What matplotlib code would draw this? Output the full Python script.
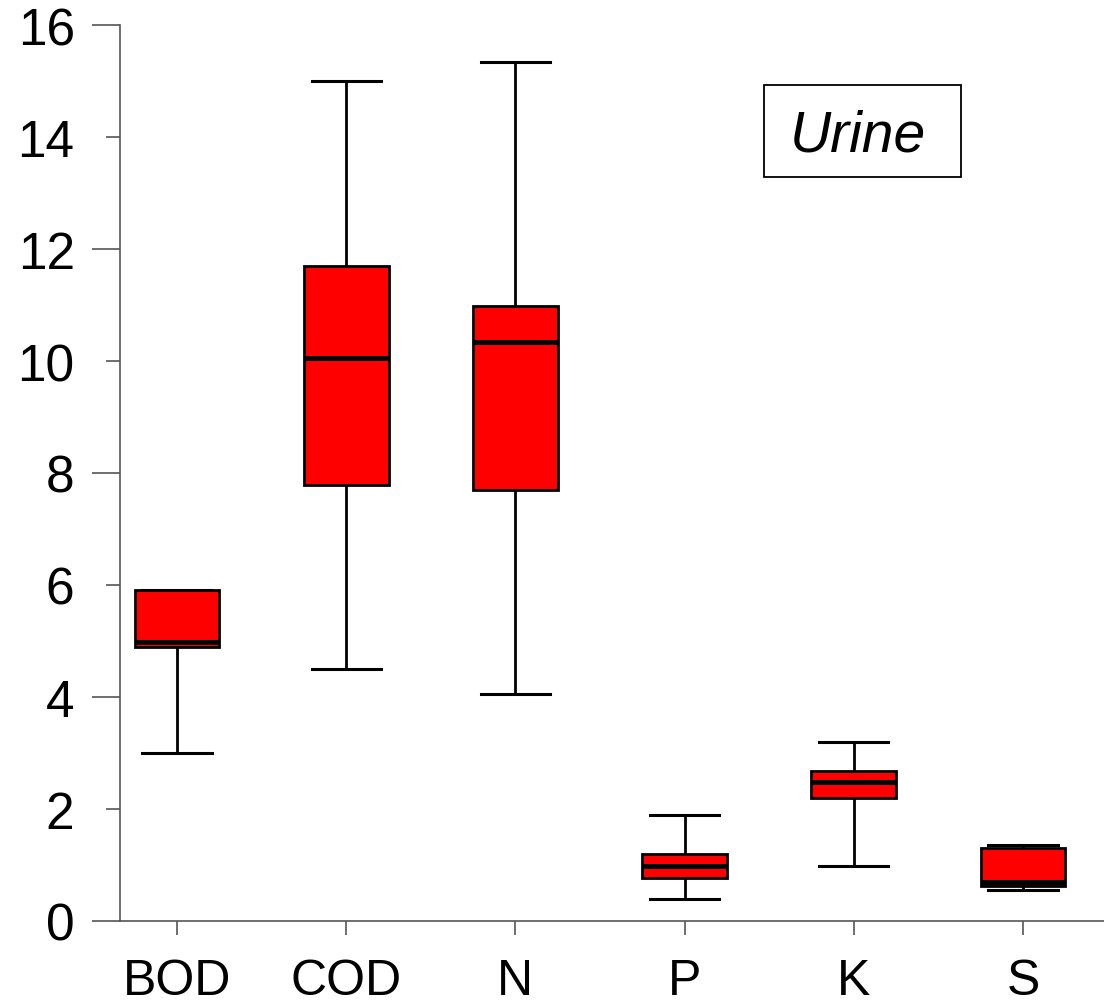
import matplotlib
matplotlib.use("Agg")
import matplotlib.pyplot as plt
from matplotlib.patches import Rectangle

plt.rcParams['font.family'] = ['Liberation Sans', 'DejaVu Sans']

categories = ["BOD", "COD", "N", "P", "K", "S"]
whislo = [3.00, 4.50, 4.05, 0.39, 0.99, 0.56]
q1 = [4.89, 7.79, 7.70, 0.76, 2.20, 0.63]
med = [4.98, 10.05, 10.34, 0.99, 2.48, 0.69]
q3 = [5.91, 11.70, 10.98, 1.20, 2.68, 1.30]
whishi = [5.91, 15.00, 15.34, 1.89, 3.19, 1.36]
label_text = "Urine"

fig = plt.figure(figsize=(11.04, 10.04), dpi=100)
ax = fig.add_axes([120/1104, 1-922/1004, 1-120/1104, (922-26)/1004])

stats = []
for i, c in enumerate(categories):
    stats.append(dict(label=c, whislo=whislo[i], q1=q1[i], med=med[i],
                      q3=q3[i], whishi=whishi[i], fliers=[]))

positions = list(range(1, len(categories) + 1))
ax.bxp(stats, positions=positions, widths=0.5, capwidths=0.41,
       patch_artist=True, showfliers=False,
       boxprops=dict(facecolor='#ff0000', edgecolor='black', linewidth=2.0),
       medianprops=dict(color='black', linewidth=3.6, solid_capstyle='butt'),
       whiskerprops=dict(color='black', linewidth=2.0),
       capprops=dict(color='black', linewidth=2.2))

ax.set_xlim(0.663, 6.479)
ax.set_ylim(0, 16)

for s in ['top', 'right']:
    ax.spines[s].set_visible(False)
for s in ['left', 'bottom']:
    ax.spines[s].set_color('#555555')
    ax.spines[s].set_linewidth(1.2)

ax.set_xticks(positions)
ax.set_xticklabels(categories, fontsize=36)
ax.tick_params(axis='x', direction='out', length=10, width=1.2, color='#555555', pad=17)

ax.set_yticks([0, 4, 8, 12, 16])
ax.set_yticks([2, 6, 10, 14], minor=True)
ax.set_yticklabels(['0', '4', '8', '12', '16'], fontsize=37)
ax.set_yticklabels(['2', '6', '10', '14'], minor=True, fontsize=37)
ax.tick_params(axis='y', which='major', direction='out', length=20.5, width=1.2,
               color='#555555', pad=12)
ax.tick_params(axis='y', which='minor', direction='out', length=10.3, width=1.2,
               color='#555555', pad=22.5)

ax.text(858/1104, 1-136/1004, label_text, transform=fig.transFigure,
        fontsize=41, style='italic', ha='center', va='center')
fig.patches.append(Rectangle((764/1104, 1-178/1004), (961-764)/1104, (178-86)/1004,
                             transform=fig.transFigure, fill=False,
                             edgecolor='black', linewidth=1.3))

fig.savefig("out.png", dpi=100)
